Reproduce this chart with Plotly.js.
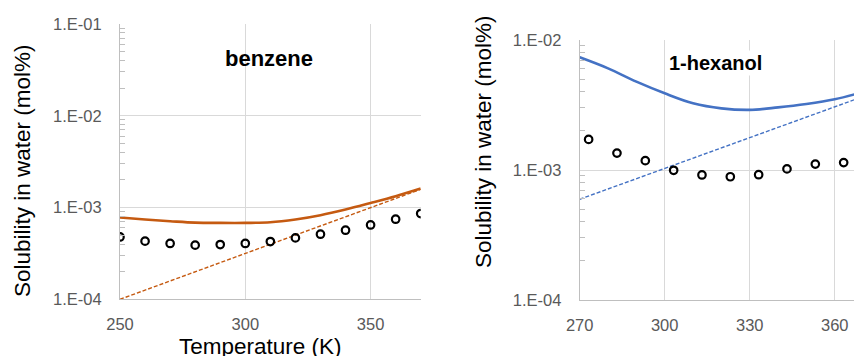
<!DOCTYPE html>
<html><head><meta charset="utf-8">
<script src="https://cdn.plot.ly/plotly-3.0.1.min.js"></script>
<style>html,body{margin:0;padding:0;background:#fff;}#chart{width:854px;height:356px;}</style>
</head><body><div id="chart"></div>
<script>
// Benzene
const benzT = [250, 260, 270, 280, 290, 300, 310, 320, 330, 340, 350, 360, 370];
const benzExp = [4.78e-4, 4.30e-4, 4.06e-4, 3.89e-4, 3.95e-4, 4.06e-4, 4.26e-4, 4.67e-4, 5.12e-4, 5.66e-4, 6.46e-4, 7.46e-4, 8.6e-4];
const benzModelT = [250, 260, 270, 280, 290, 300, 310, 320, 330, 340, 350, 360, 370];
const benzModel = [7.78e-4, 7.4e-4, 7.1e-4, 6.85e-4, 6.8e-4, 6.8e-4, 6.9e-4, 7.4e-4, 8.24e-4, 9.5e-4, 1.12e-3, 1.33e-3, 1.61e-3];
const benzIdealT = [250, 370];
const benzIdeal = [1.0e-4, 1.58e-3];
// 1-hexanol
const hexT = [273.15, 283.15, 293.15, 303.15, 313.15, 323.15, 333.15, 343.15, 353.15, 363.15];
const hexExp = [1.72e-3, 1.35e-3, 1.18e-3, 9.95e-4, 9.16e-4, 8.87e-4, 9.2e-4, 1.02e-3, 1.11e-3, 1.14e-3];
const hexModelT = [270, 280, 290, 300, 310, 320, 330, 340, 350, 360, 367];
const hexModel = [7.36e-3, 6.05e-3, 4.78e-3, 3.89e-3, 3.26e-3, 2.98e-3, 2.9e-3, 3.03e-3, 3.22e-3, 3.5e-3, 3.82e-3];
const hexIdealT = [270, 370];
const hexIdeal = [5.96e-4, 3.67e-3];
// tick labels
const benzXTicks = [250, 300, 350];
const benzYTicks = [1e-4, 1e-3, 1e-2, 1e-1];
const benzYLabels = ['1.E-04', '1.E-03', '1.E-02', '1.E-01'];
const hexXTicks = [270, 300, 330, 360];
const hexYTicks = [1e-4, 1e-3, 1e-2];
const hexYLabels = ['1.E-04', '1.E-03', '1.E-02'];

function minorVals(lo, hi) {
  const out = [];
  for (let e = lo; e < hi; e++) for (let m = 2; m <= 9; m++) out.push(m * Math.pow(10, e));
  return out;
}

const W = 854, H = 356;
const orange = '#C55A11', blue = '#4472C4';
const circ = {symbol: 'circle-open', size: 7.5, color: '#000', line: {width: 2.2, color: '#000'}};

const traces = [
  {x: benzModelT, y: benzModel, mode: 'lines', line: {color: orange, width: 2.6, shape: 'spline'}, xaxis: 'x', yaxis: 'y'},
  {x: benzIdealT, y: benzIdeal, mode: 'lines', line: {color: orange, width: 1.4, dash: '4px,2px'}, xaxis: 'x', yaxis: 'y'},
  {x: benzT, y: benzExp, mode: 'markers', marker: circ, xaxis: 'x', yaxis: 'y'},
  {x: hexModelT, y: hexModel, mode: 'lines', line: {color: blue, width: 2.6, shape: 'spline'}, xaxis: 'x2', yaxis: 'y2'},
  {x: hexIdealT, y: hexIdeal, mode: 'lines', line: {color: blue, width: 1.4, dash: '4px,2px'}, xaxis: 'x2', yaxis: 'y2'},
  {x: hexT, y: hexExp, mode: 'markers', marker: circ, xaxis: 'x2', yaxis: 'y2'}
];

const FF = '"Liberation Sans", Arial, sans-serif';
const tickFont = {family: FF, size: 16.5, color: '#595959'};
const gridC = '#d9d9d9', lineC = '#bfbfbf';
function xax(domain, range, vals, anchor) {
  return {domain: domain, range: range, tickvals: vals, ticktext: vals.map(String), showgrid: true, gridcolor: gridC, gridwidth: 1,
    showline: true, linecolor: lineC, linewidth: 1, zeroline: false, ticks: '', tickfont: tickFont, ticklabelstandoff: 10, anchor: anchor, fixedrange: true};
}
function yax(domain, range, vals, labels, minor, anchor) {
  return {type: 'log', domain: domain, range: range, tickvals: vals, ticktext: labels, showgrid: true, gridcolor: gridC, gridwidth: 1,
    showline: true, linecolor: lineC, linewidth: 1, zeroline: false, ticks: '', tickfont: tickFont, ticklabelstandoff: 14, anchor: anchor,
    minor: {tickvals: minor, ticks: 'inside', ticklen: 5, tickcolor: lineC, showgrid: false}, fixedrange: true};
}

const titleFont = {family: FF, size: 22.5, color: '#000'};
const layout = {
  width: W, height: H, margin: {l: 0, r: 0, t: 0, b: 0}, showlegend: false,
  paper_bgcolor: '#fff', plot_bgcolor: '#fff',
  xaxis: xax([120 / W, 420.7 / W], [250, 370], benzXTicks, 'y'),
  yaxis: yax([1 - 299.3 / H, 1 - 24 / H], [-4, -1], benzYTicks, benzYLabels, minorVals(-4, -1), 'x'),
  xaxis2: xax([579.7 / W, 1], [270, 366.8], hexXTicks, 'y2'),
  yaxis2: yax([1 - 300 / H, 1 - 40 / H], [-4, -2], hexYTicks, hexYLabels, minorVals(-4, -2), 'x2'),
  annotations: [
    {text: 'Solubility in water (mol%)', textangle: -90, xref: 'paper', yref: 'paper', x: 22 / W, y: 1 - 171 / H, xanchor: 'center', yanchor: 'middle', showarrow: false, font: titleFont},
    {text: 'Solubility in water (mol%)', textangle: -90, xref: 'paper', yref: 'paper', x: 483 / W, y: 1 - 141 / H, xanchor: 'center', yanchor: 'middle', showarrow: false, font: titleFont},
    {text: 'Temperature (K)', xref: 'paper', yref: 'paper', x: 260 / W, y: 1 - 346 / H, xanchor: 'center', yanchor: 'middle', showarrow: false, font: titleFont},
    {text: '<b>benzene</b>', xref: 'paper', yref: 'paper', x: 269 / W, y: 1 - 58 / H, xanchor: 'center', yanchor: 'middle', showarrow: false, font: {family: FF, size: 22, color: '#000'}},
    {text: '<b>1-hexanol</b>', xref: 'paper', yref: 'paper', x: 715 / W, y: 1 - 63 / H, xanchor: 'center', yanchor: 'middle', showarrow: false, bgcolor: '#fff', font: {family: FF, size: 20, color: '#000'}}
  ]
};
Plotly.newPlot('chart', traces, layout, {displayModeBar: false, staticPlot: true});
</script></body></html>
